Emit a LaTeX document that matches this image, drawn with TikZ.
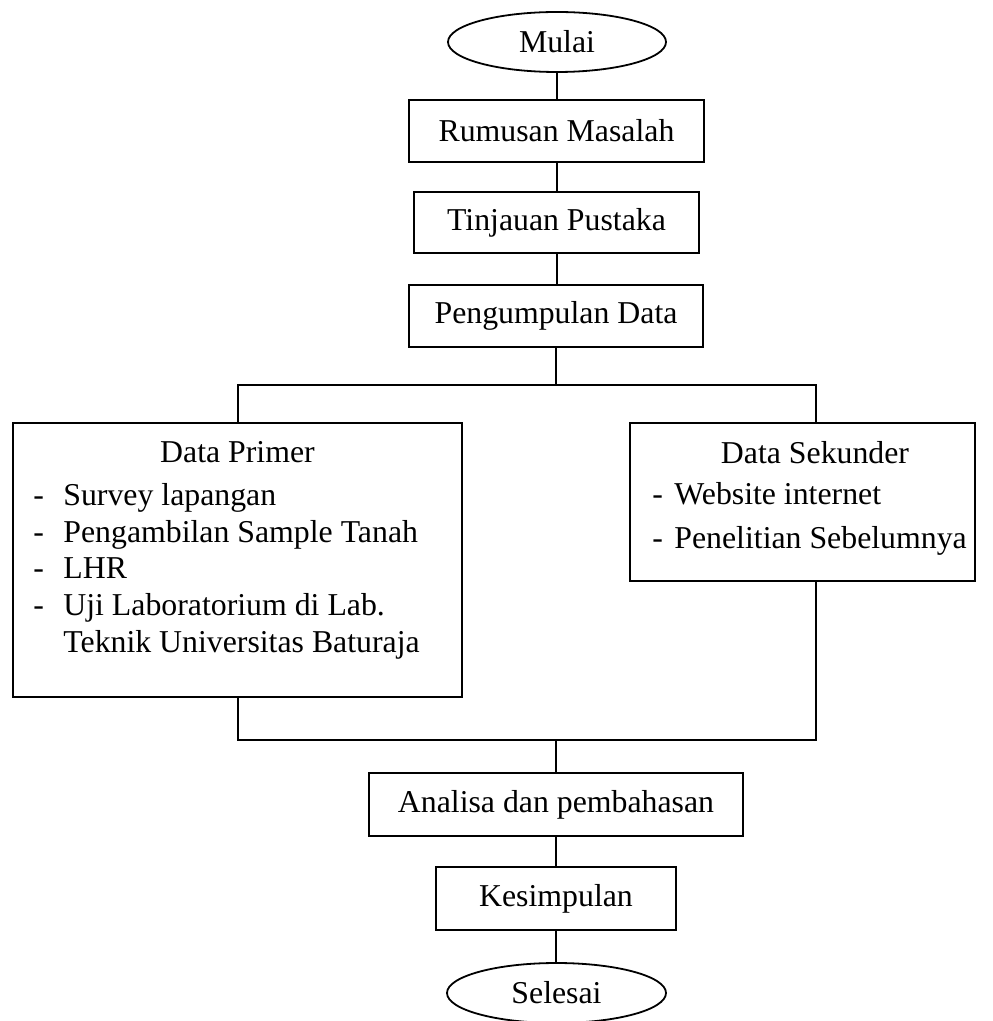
\documentclass[tikz,border=0pt]{standalone}
\usepackage{fontspec}
\setmainfont{Liberation Serif}
\usetikzlibrary{shapes.geometric}
\tikzset{
  flowbox/.style={draw, line width=0.9pt, rectangle, inner sep=0pt, align=center},
  termbox/.style={draw, line width=0.9pt, ellipse, inner sep=0pt},
  conn/.style={line width=0.9pt},
  txt/.style={inner sep=0pt, anchor=base west},
  ttl/.style={inner sep=0pt, anchor=base}
}
\begin{document}
\begin{tikzpicture}[x=0.5pt, y=-0.5pt, font=\fontsize{15.9pt}{18.3pt}\selectfont]
\useasboundingbox (0,0) rectangle (992,1021);
\clip (0,0) rectangle (992,1021);

\node[termbox, minimum width=109pt, minimum height=30pt] (mulai) at (557,42) {Mulai};
\node[flowbox, minimum width=147.5pt, minimum height=31pt] (rumusan) at (556.5,131) {Rumusan Masalah};
\node[flowbox, minimum width=142.5pt, minimum height=30.5pt] (tinjauan) at (556.5,222.5) {Tinjauan Pustaka};
\node[flowbox, minimum width=147pt, minimum height=31pt] (peng) at (556,316) {Pengumpulan Data};

\node[flowbox, minimum width=224.5pt, minimum height=137pt] (primer) at (237.5,560) {};
\node[ttl] (primerT) at (237.5,462) {Data Primer};
\node[txt] (pd1) at (33,505) {-};
\node[txt] (pi1) at (63,505) {Survey lapangan};
\node[txt] (pd2) at (33,542) {-};
\node[txt] (pi2) at (63,542) {Pengambilan Sample Tanah};
\node[txt] (pd3) at (33,578) {-};
\node[txt] (pi3) at (63,578) {LHR};
\node[txt] (pd4) at (33,615) {-};
\node[txt] (pi4) at (63,615) {Uji Laboratorium di Lab.};
\node[txt] (pi5) at (63,652) {Teknik Universitas Baturaja};

\node[flowbox, minimum width=172.5pt, minimum height=79pt] (sek) at (802.5,502) {};
\node[ttl] (sekT) at (815,463) {Data Sekunder};
\node[txt] (sd1) at (652,504) {-};
\node[txt] (si1) at (674,504) {Website internet};
\node[txt] (sd2) at (652,548) {-};
\node[txt] (si2) at (674,548) {Penelitian Sebelumnya};

\node[flowbox, minimum width=187pt, minimum height=31.5pt] (analisa) at (556,804.5) {Analisa dan pembahasan};
\node[flowbox, minimum width=120pt, minimum height=31.5pt] (kesimpulan) at (556,898.5) {Kesimpulan};
\node[termbox, minimum width=109.5pt, minimum height=30pt] (selesai) at (556.5,993) {Selesai};

\coordinate (axis) at (557,0);
\coordinate (split) at (556,385);
\coordinate (splitL) at (238,385);
\coordinate (splitR) at (816,385);
\coordinate (join) at (556,740);
\coordinate (joinL) at (238,740);
\coordinate (joinR) at (816,740);

\draw[conn] (axis |- mulai.south) -- (axis |- rumusan.north);
\draw[conn] (axis |- rumusan.south) -- (axis |- tinjauan.north);
\draw[conn] (axis |- tinjauan.south) -- (axis |- peng.north);
\draw[conn] (peng.south) -- (split);
\draw[conn] (splitL |- primer.north) -- (splitL) -- (splitR) -- (splitR |- sek.north);
\draw[conn] (joinL |- primer.south) -- (joinL) -- (joinR) -- (joinR |- sek.south);
\draw[conn] (join) -- (analisa.north);
\draw[conn] (analisa.south) -- (kesimpulan.north);
\draw[conn] (kesimpulan.south) -- (kesimpulan.south |- selesai.north);
\end{tikzpicture}
\end{document}
